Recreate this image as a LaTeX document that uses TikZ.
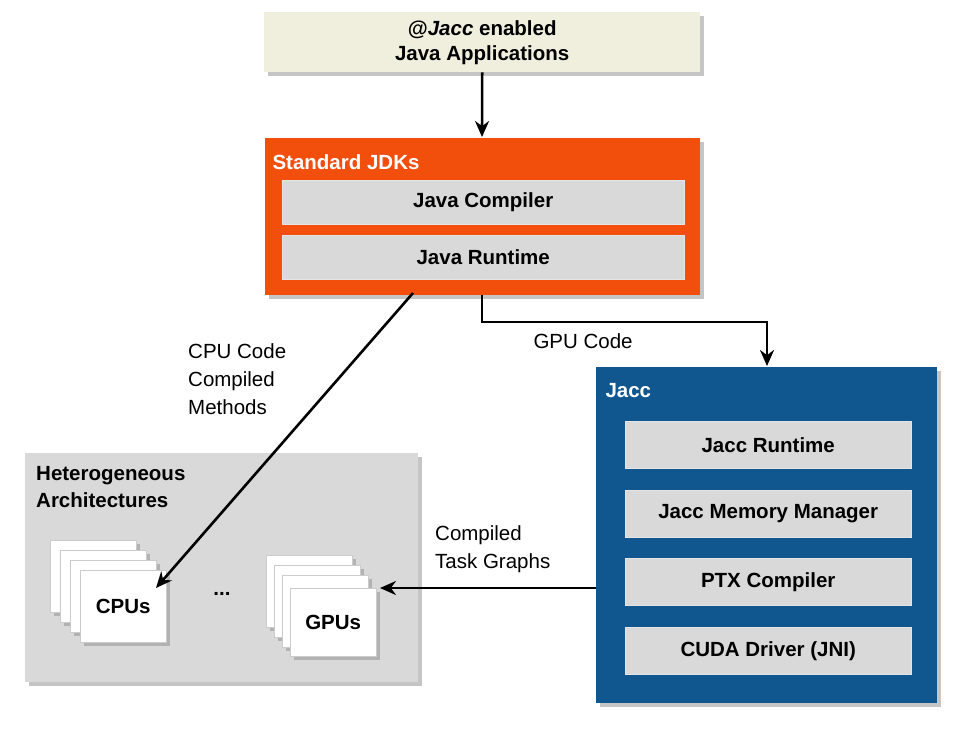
\documentclass[tikz,border=0pt]{standalone}
\usepackage{fontspec}
\setmainfont{Liberation Sans}
\usetikzlibrary{shadows,arrows.meta}
\definecolor{beige}{HTML}{F0EEDD}
\definecolor{jdk}{HTML}{F24E0C}
\definecolor{jaccblue}{HTML}{11578F}
\definecolor{inner}{HTML}{D9D9D9}
\begin{document}
\begin{tikzpicture}[x=1pt,y=-1pt,font=\fontsize{20.5}{24}\selectfont,
  shad/.style={drop shadow={shadow xshift=4pt,shadow yshift=-4pt,fill=black!45}},
  panel/.style={shad,draw=none},
  innerbox/.style={fill=inner,draw=white!90!black,minimum width=#1,minimum height=44pt,font=\fontsize{20.5}{24}\selectfont\bfseries,anchor=north west},
  card/.style={fill=white,draw=black!20,shad,minimum width=86pt,minimum height=72pt,anchor=north west},
  arr/.style={-{Stealth[length=16pt,width=14pt]},line width=2.6pt}]
\useasboundingbox (0,0) rectangle (960,734);
% top
\node[panel,fill=beige,minimum width=436pt,minimum height=60pt,anchor=north west,align=center,font=\fontsize{20.5}{25}\selectfont\bfseries] (app) at (264,12) {@\textit{Jacc} enabled\\Java Applications};
% JDK
\node[panel,fill=jdk,minimum width=435pt,minimum height=157pt,anchor=north west] (jdk) at (265,138) {};
\node[anchor=west,text=white,font=\fontsize{20.5}{24}\selectfont\bfseries] (jdkt) at (269,162) {Standard JDKs};
\node[innerbox=402pt] (jc) at (282,180) {Java Compiler};
\node[innerbox=402pt] (jr) at (282,235) {Java Runtime};
% Heterogeneous
\node[panel,fill=inner,minimum width=393pt,minimum height=229pt,anchor=north west] (het) at (25,453) {};
\node[anchor=north west,align=left,font=\fontsize{20.5}{27}\selectfont\bfseries,inner sep=0pt] (hett) at (36,466) {Heterogeneous\\Architectures};
\node[card] (c1) at (50,540) {};
\node[card] (c2) at (60,550) {};
\node[card] (c3) at (70,560) {};
\node[card,font=\fontsize{20.5}{24}\selectfont\bfseries] (cpu) at (80,570) {CPUs};
\node[font=\fontsize{20.5}{24}\selectfont\bfseries] (dots) at (222,594) {...};
\node[card] (g1) at (266,555) {};
\node[card] (g2) at (274,565) {};
\node[card] (g3) at (282,575) {};
\node[card,font=\fontsize{20.5}{24}\selectfont\bfseries,minimum height=68pt] (gpu) at (290,588) {GPUs};
% Jacc
\node[panel,fill=jaccblue,minimum width=341pt,minimum height=336pt,anchor=north west] (jacc) at (596,367) {};
\node[anchor=west,text=white,font=\fontsize{20.5}{24}\selectfont\bfseries] (jacct) at (602,391) {Jacc};
\node[innerbox=286pt,minimum height=47pt] (j1) at (625,421) {Jacc Runtime};
\node[innerbox=286pt,minimum height=47pt] (j2) at (625,490) {Jacc Memory Manager};
\node[innerbox=286pt,minimum height=47pt] (j3) at (625,558) {PTX Compiler};
\node[innerbox=286pt,minimum height=47pt] (j4) at (625,627) {CUDA Driver (JNI)};
% connectors
\coordinate (jdkb) at (482,295);
\coordinate (jaccin) at (767,366);
\coordinate (cpuS) at (413,293);
\coordinate (cpuE) at (156,588);
\coordinate (gS) at (596,588);
\coordinate (gE) at (380,588);
\draw[arr] (app.south) -- (482,137);
\draw[arr] (jdkb) |- (767,322) -- (jaccin);
\draw[arr] (cpuS) -- (cpuE);
\draw[arr] (gS) -- (gE);
\node[anchor=west] (gl) at (530,341) {GPU Code};
\node[anchor=north west,align=left,inner sep=0pt,font=\fontsize{20.5}{28}\selectfont] (cl) at (188,343) {CPU Code\\Compiled\\Methods};
\node[anchor=north west,align=left,inner sep=0pt,font=\fontsize{20.5}{28}\selectfont] (tl) at (435,525) {Compiled\\Task Graphs};
\end{tikzpicture}
\end{document}
